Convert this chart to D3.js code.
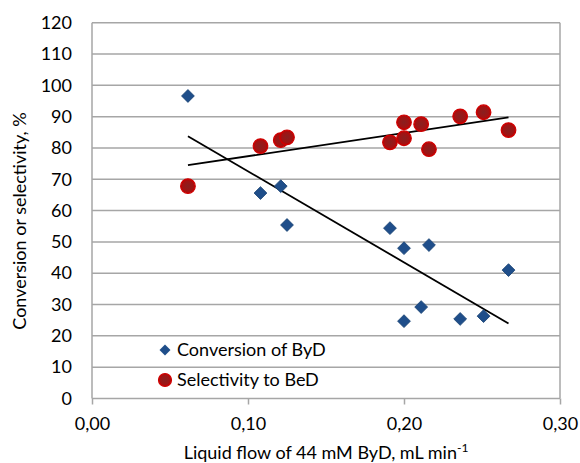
<!DOCTYPE html>
<html>
<head>
<meta charset="utf-8">
<script src="https://cdn.jsdelivr.net/npm/d3@7"></script>
<style>
  body { margin: 0; background: #fff; }
  svg text { font-family: Lato, "Open Sans", sans-serif; fill: #000; }
</style>
</head>
<body>
<svg id="chart"></svg>
<script>
// liquid flow (mL/min) and values
const convFlow = [0.0615, 0.108, 0.121, 0.125, 0.191, 0.200, 0.216, 0.267, 0.211, 0.200, 0.236, 0.251];
const convVals = [96.6, 65.6, 67.8, 55.4, 54.4, 48.0, 49.0, 41.0, 29.2, 24.7, 25.4, 26.3];
const selFlow = [0.0615, 0.108, 0.121, 0.125, 0.191, 0.200, 0.200, 0.211, 0.216, 0.236, 0.251, 0.267];
const selVals = [67.8, 80.6, 82.5, 83.4, 81.8, 88.2, 83.1, 87.6, 79.6, 90.1, 91.4, 85.7];
const xTicks = [0, 0.1, 0.2, 0.3];
const yTicks = d3.range(0, 121, 10);

const W = 580, H = 463;
const margin = { top: 22.7, right: 20, bottom: 64.5, left: 92 };
const width = 560 - margin.left;
const height = 398.5 - margin.top;

const svg = d3.select('#chart').attr('width', W).attr('height', H);

const defs = svg.append('defs');
const grad = defs.append('radialGradient').attr('id', 'redDot');
grad.append('stop').attr('offset', '0%').attr('stop-color', '#8a1f1f');
grad.append('stop').attr('offset', '70%').attr('stop-color', '#a01414');
grad.append('stop').attr('offset', '100%').attr('stop-color', '#c00000');

const g = svg.append('g').attr('transform', `translate(${margin.left},${margin.top})`);

const x = d3.scaleLinear().domain([0, 0.3]).range([0, width]);
const y = d3.scaleLinear().domain([0, 120]).range([height, 0]);

// grid lines
g.selectAll('.grid').data(yTicks).enter().append('line')
  .attr('x1', 0).attr('x2', width)
  .attr('y1', d => y(d)).attr('y2', d => y(d))
  .attr('stroke', '#a6a6a6').attr('stroke-width', 1.5);

// right border + left axis
g.append('line').attr('x1', width).attr('x2', width).attr('y1', 0).attr('y2', height)
  .attr('stroke', '#a6a6a6').attr('stroke-width', 1.5);
g.append('line').attr('x1', 0).attr('x2', 0).attr('y1', 0).attr('y2', height)
  .attr('stroke', '#a6a6a6').attr('stroke-width', 1.5);

// x axis ticks
const xAxis = g.append('g').attr('transform', `translate(0,${height})`)
  .call(d3.axisBottom(x).tickValues(xTicks).tickSize(6).tickPadding(13)
    .tickFormat(d => d3.format('.2f')(d).replace('.', ',')));
xAxis.select('.domain').remove();
xAxis.selectAll('line').attr('stroke', '#a6a6a6').attr('stroke-width', 1.5);
xAxis.selectAll('text').style('font-size', '18px').style('font-family', 'Lato, sans-serif');

// y axis labels
const yAxis = g.append('g')
  .call(d3.axisLeft(y).tickValues(yTicks).tickSize(0).tickPadding(20));
yAxis.select('.domain').remove();
yAxis.selectAll('text').style('font-size', '18px').style('font-family', 'Lato, sans-serif');

// axis titles
const xt = svg.append('text').attr('x', 326).attr('y', 459)
  .attr('text-anchor', 'middle').style('font-size', '18px');
xt.append('tspan').text('Liquid flow of 44 mM ByD, mL min');
xt.append('tspan').text('-1').attr('dy', -7).style('font-size', '12px');

svg.append('text')
  .attr('transform', 'translate(26,221) rotate(-90)')
  .attr('text-anchor', 'middle').style('font-size', '18px')
  .text('Conversion or selectivity, %');

// trend lines (least squares, like the spreadsheet)
function trend(xs, ys) {
  const reg = d3.zip(xs, ys);
  const mx = d3.mean(xs), my = d3.mean(ys);
  const m = d3.sum(reg, d => (d[0] - mx) * (d[1] - my)) / d3.sum(xs, v => (v - mx) ** 2);
  const b = my - m * mx;
  const ext = d3.extent(xs);
  return ext.map(v => [v, m * v + b]);
}
const line = d3.line().x(d => x(d[0])).y(d => y(d[1]));
[trend(convFlow, convVals), trend(selFlow, selVals)].forEach(t => {
  g.append('path').datum(t).attr('d', line)
    .attr('fill', 'none').attr('stroke', '#000').attr('stroke-width', 1.8);
});

// selectivity dots
g.selectAll('.sel').data(d3.zip(selFlow, selVals)).enter().append('circle')
  .attr('cx', d => x(d[0])).attr('cy', d => y(d[1])).attr('r', 7.3)
  .attr('fill', 'url(#redDot)').attr('stroke', '#d00000').attr('stroke-width', 1.2);

// conversion diamonds
const diamond = d3.symbol().type(d3.symbolSquare).size(82);
g.selectAll('.conv').data(d3.zip(convFlow, convVals)).enter().append('path')
  .attr('d', diamond)
  .attr('transform', d => `translate(${x(d[0])},${y(d[1])}) rotate(45)`)
  .attr('fill', '#1f4e8a').attr('stroke', '#1a4374').attr('stroke-width', 0.8);

// legend
const leg = svg.append('g').attr('transform', 'translate(165,350)');
leg.append('path').attr('d', d3.symbol().type(d3.symbolSquare).size(60))
  .attr('transform', 'rotate(45)').attr('fill', '#1f4e8a');
leg.append('text').attr('x', 12).attr('y', 0).attr('dy', '0.35em')
  .style('font-size', '18px').text('Conversion of ByD');
leg.append('circle').attr('cx', 0).attr('cy', 30).attr('r', 6.5)
  .attr('fill', 'url(#redDot)').attr('stroke', '#d00000').attr('stroke-width', 1.2);
leg.append('text').attr('x', 12).attr('y', 30).attr('dy', '0.35em')
  .style('font-size', '18px').text('Selectivity to BeD');
</script>
</body>
</html>
